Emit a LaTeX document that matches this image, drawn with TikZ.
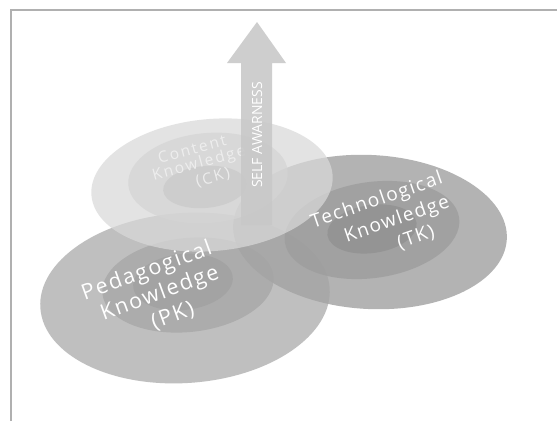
\documentclass[tikz,border=0pt]{standalone}
\usepackage{fontspec}
\setmainfont{Open Sans}
\newfontfamily\lblfont[LetterSpace=8]{Open Sans}
\newfontfamily\cklblfont[LetterSpace=13]{Open Sans}
\usetikzlibrary{shapes.geometric}
\definecolor{framec}{RGB}{176,176,176}
\definecolor{pkA}{RGB}{191,191,191}
\definecolor{pkB}{RGB}{172,172,172}
\definecolor{pkC}{RGB}{163,163,163}
\definecolor{tkA}{RGB}{164,164,164}
\definecolor{tkB}{RGB}{158,158,158}
\definecolor{tkC}{RGB}{146,146,146}
\definecolor{ckA}{RGB}{217,217,217}
\definecolor{ckB}{RGB}{212,212,212}
\definecolor{ckC}{RGB}{202,202,202}
\definecolor{arrowc}{RGB}{200,200,200}
\begin{document}
\begin{tikzpicture}[x=1pt,y=-1pt,
  blob/.style={ellipse, draw=none, inner sep=0pt, outer sep=0pt},
  tkblob/.style={blob, fill opacity=0.83},
  ckblob/.style={blob, fill opacity=0.72},
  lbl/.style={text=white, inner sep=0pt},
  pklbl/.style={lbl, rotate=20, font=\lblfont\fontsize{21.5}{26}\selectfont},
  tklbl/.style={lbl, rotate=19, font=\lblfont\fontsize{19}{23}\selectfont},
  cklbl/.style={lbl, text=white!94!black, text opacity=0.9, rotate=15, font=\cklblfont\fontsize{15.5}{17}\selectfont},
]
\useasboundingbox (0,0) rectangle (557,421);
\fill[white] (0,0) rectangle (557,421);
\draw[framec, line width=2pt] (11,421) -- (11,10) -- (557,10);

% PK
\node[blob, fill=pkA, minimum width=290pt, minimum height=170pt, rotate=4] (pkA) at (185,298) {};
\node[blob, fill=pkB, minimum width=172pt, minimum height=94pt, rotate=6] (pkB) at (188,285) {};
\node[blob, fill=pkC, minimum width=100pt, minimum height=56pt, rotate=6] (pkC) at (183,282) {};
% TK
\node[tkblob, fill=tkA, minimum width=274pt, minimum height=154pt, rotate=-3] (tkA) at (370,232) {};
\node[tkblob, fill=tkB, minimum width=176pt, minimum height=96pt, rotate=8] (tkB) at (372,230) {};
\node[tkblob, fill=tkC, minimum width=90pt, minimum height=48pt, rotate=8] (tkC) at (372,229) {};
% CK
\node[ckblob, fill=ckA, minimum width=242pt, minimum height=132pt, rotate=5] (ckA) at (212,185) {};
\node[ckblob, fill=ckB, minimum width=160pt, minimum height=90pt, rotate=5] (ckB) at (208,178) {};
\node[ckblob, fill=ckC, minimum width=84pt, minimum height=42pt, rotate=5] (ckC) at (205,187) {};

% labels
\node[pklbl] (pkT1) at (147,272) {Pedagogical};
\node[pklbl] (pkT2) at (160,294) {Knowledge};
\node[pklbl] (pkT3) at (173,316) {(PK)};
\node[tklbl] (tkT1) at (377,201) {Technological};
\node[tklbl] (tkT2) at (397,220) {Knowledge};
\node[tklbl] (tkT3) at (416,238) {(TK)};
\node[cklbl] (ckT1) at (192,149) {Content};
\node[cklbl] (ckT2) at (199,164) {Knowledge};
\node[cklbl] (ckT3) at (213,178) {(CK)};

% arrow
\coordinate (aBL) at (241,225);
\coordinate (aBR) at (272,225);
\fill[arrowc, fill opacity=0.88] (aBL) -- (241,63) -- (227,63) -- (257,22) -- (286,63) -- (272,63) -- (aBR) -- cycle;
\node[lbl, rotate=90, font=\fontsize{14}{16}\selectfont] (saT) at (257,135) {SELF AWARNESS};
\end{tikzpicture}
\end{document}
